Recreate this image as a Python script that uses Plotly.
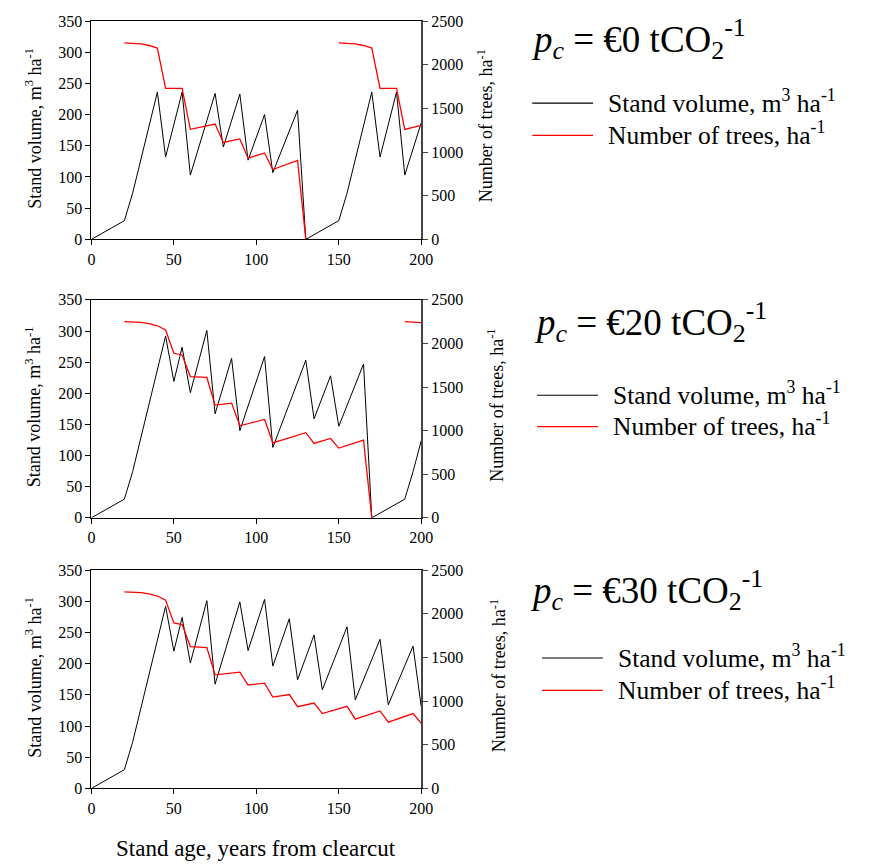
import plotly.graph_objects as go

# ---------------- data ----------------
# carbon prices (EUR per tCO2) of the three management scenarios
carbon_prices = ["0", "20", "30"]

# p_c = 0: stand volume (m3/ha) by stand age
age_vol_p0 = [0, 20, 25, 40, 45, 55, 60, 75, 80, 90, 95, 105, 110, 125, 130,
              150, 155, 170, 175, 185, 190, 200]
vol_p0 = [0, 30, 74, 236, 132, 236, 103, 234, 148, 233, 127, 200, 107, 207, 0,
          30, 74, 236, 132, 236, 103, 187]
# p_c = 0: number of trees per ha (None = no stand after clearcut)
age_trees_p0 = [20, 25, 30, 35, 40, 45, 55, 60, 75, 80, 90, 95, 105, 110, 125, 130,
                140, 150, 155, 160, 165, 170, 175, 185, 190, 200]
trees_p0 = [2250, 2247, 2238, 2220, 2190, 1730, 1730, 1260, 1320, 1110, 1150, 930,
            990, 800, 905, 0, None, 2250, 2247, 2238, 2220, 2190, 1730, 1730, 1260, 1305]

# p_c = 20
age_vol_p20 = [0, 20, 25, 45, 50, 55, 60, 70, 75, 85, 90, 105, 110, 130, 135, 145,
               150, 165, 170, 190, 195, 200]
vol_p20 = [0, 30, 74, 292, 219, 274, 201, 301, 167, 256, 140, 259, 113, 253, 159, 228,
           147, 247, 0, 30, 74, 124]
age_trees_p20 = [20, 25, 30, 35, 40, 45, 50, 55, 60, 70, 75, 85, 90, 105, 110, 130,
                 135, 145, 150, 165, 170, 180, 190, 195, 200]
trees_p20 = [2250, 2248, 2242, 2228, 2203, 2154, 1887, 1868, 1620, 1610, 1293, 1316,
             1056, 1128, 860, 977, 853, 910, 800, 891, 0, None, 2250, 2248, 2240]

# p_c = 30
age_vol_p30 = [0, 20, 25, 45, 50, 55, 60, 70, 75, 90, 95, 105, 110, 120, 125, 135,
               140, 155, 160, 175, 180, 195, 200]
vol_p30 = [0, 30, 74, 292, 220, 274, 201, 301, 167, 299, 221, 303, 196, 272, 174, 246,
           158, 259, 142, 239, 134, 228, 131]
age_trees_p30 = [20, 25, 30, 35, 40, 45, 50, 55, 60, 70, 75, 90, 95, 105, 110, 120,
                 125, 135, 140, 155, 160, 175, 180, 195, 200]
trees_p30 = [2250, 2248, 2242, 2228, 2203, 2156, 1895, 1876, 1624, 1613, 1301, 1331,
             1184, 1206, 1045, 1075, 936, 977, 857, 940, 793, 887, 759, 857, 744]

vol_tick_values = [0, 50, 100, 150, 200, 250, 300, 350]
trees_tick_values = [0, 500, 1000, 1500, 2000, 2500]
age_tick_values = [0, 50, 100, 150, 200]

panels = [
    (age_vol_p0, vol_p0, age_trees_p0, trees_p0),
    (age_vol_p20, vol_p20, age_trees_p20, trees_p20),
    (age_vol_p30, vol_p30, age_trees_p30, trees_p30),
]

# ---------------- layout geometry (pixels) ----------------
W, H = 879, 868
SERIF = "Liberation Serif, Times New Roman, serif"
plot_left, plot_right = 89, 425
panel_top_bottom = [(13.3, 236), (297.7, 520), (573.3, 796)]


def px_x(px):
    return px / W


def px_y(py):
    return 1 - py / H


fig = go.Figure()
layout = dict(
    width=W, height=H,
    margin=dict(l=0, r=0, t=0, b=0),
    paper_bgcolor="white", plot_bgcolor="white",
    showlegend=False,
    font=dict(family=SERIF, size=16, color="black"),
)

annotations = []
shapes = []

for i, (ax_v, v, ax_t, t) in enumerate(panels):
    n = i + 1
    xa = "x" if n == 1 else f"x{n}"
    ya_left = "y" if n == 1 else f"y{2 * n - 1}"
    ya_right = f"y{2 * n}"

    fig.add_trace(go.Scatter(x=ax_v, y=v, mode="lines", xaxis=xa, yaxis=ya_left,
                             line=dict(color="black", width=1), name="Stand volume"))
    fig.add_trace(go.Scatter(x=ax_t, y=t, mode="lines", xaxis=xa, yaxis=ya_right,
                             connectgaps=False,
                             line=dict(color="#ff0000", width=1.3), name="Number of trees"))

    top, bottom = panel_top_bottom[i]
    dom_y = [px_y(bottom), px_y(top)]
    xkey = "xaxis" if n == 1 else f"xaxis{n}"
    ylkey = "yaxis" if n == 1 else f"yaxis{2 * n - 1}"
    yrkey = f"yaxis{2 * n}"

    layout[xkey] = dict(
        domain=[px_x(plot_left), px_x(plot_right)], anchor=ya_left,
        range=[0, 200], tickvals=age_tick_values,
        ticks="outside", ticklen=5, tickcolor="black",
        showline=True, linecolor="black", linewidth=1, mirror=True,
        showgrid=False, zeroline=False,
        tickfont=dict(family=SERIF, size=16, color="black"),
    )
    layout[ylkey] = dict(
        domain=dom_y, anchor=xa,
        range=[0, 350], tickvals=vol_tick_values,
        ticks="outside", ticklen=5, tickcolor="black",
        showline=True, linecolor="black", linewidth=1,
        showgrid=False, zeroline=False,
        tickfont=dict(family=SERIF, size=16, color="black"),
    )
    layout[yrkey] = dict(
        domain=dom_y, anchor=xa, overlaying=ya_left, side="right",
        range=[0, 2500], tickvals=trees_tick_values,
        ticks="outside", ticklen=5, tickcolor="#444",
        showline=True, linecolor="#444", linewidth=1.5,
        showgrid=False, zeroline=False,
        tickfont=dict(family=SERIF, size=16, color="black"),
    )

    mid = (top + bottom) / 2
    # left / right axis titles
    annotations.append(dict(
        xref="paper", yref="paper", x=px_x(30), y=px_y(mid - 2),
        xanchor="center", yanchor="middle", textangle=-90, showarrow=False,
        text="Stand volume, m<sup>3</sup> ha<sup>-1</sup>",
        font=dict(family=SERIF, size=18, color="black"),
    ))
    right_title_x = [490, 501, 503][i]
    annotations.append(dict(
        xref="paper", yref="paper", x=px_x(right_title_x), y=px_y(mid - 4),
        xanchor="center", yanchor="middle", textangle=-90, showarrow=False,
        text="Number of trees, ha<sup>-1</sup>",
        font=dict(family=SERIF, size=18, color="black"),
    ))

# scenario headings with their legends
heading_pos = [(535, 32), (538, 320), (534, 594)]
legend_pos = [(538, 600, 97, 130), (543, 605, 395, 427), (548, 610, 663, 696)]
for i, price in enumerate(carbon_prices):
    hx, hy = heading_pos[i]
    annotations.append(dict(
        xref="paper", yref="paper", x=px_x(hx), y=px_y(hy),
        xanchor="left", yanchor="middle", showarrow=False,
        text=f"<i>p</i><sub><i>c</i></sub> = €{price} tCO<sub>2</sub><sup>-1</sup>",
        font=dict(family=SERIF, size=37, color="black"),
    ))
    x0, x1, yb, yr = legend_pos[i]
    for yy, col, label in [(yb, "black", "Stand volume, m<sup>3</sup> ha<sup>-1</sup>"),
                           (yr, "#ff0000", "Number of trees, ha<sup>-1</sup>")]:
        shapes.append(dict(type="line", xref="paper", yref="paper",
                           x0=px_x(x0), x1=px_x(x1), y0=px_y(yy), y1=px_y(yy),
                           line=dict(color=col, width=1.2)))
        annotations.append(dict(
            xref="paper", yref="paper", x=px_x(x1 + 13), y=px_y(yy - 2),
            xanchor="left", yanchor="middle", showarrow=False, text=label,
            font=dict(family=SERIF, size=25.5, color="black"),
        ))

# shared x-axis title
annotations.append(dict(
    xref="paper", yref="paper", x=px_x(257), y=px_y(857),
    xanchor="center", yanchor="middle", showarrow=False,
    text="Stand age, years from clearcut",
    font=dict(family=SERIF, size=23, color="black"),
))

layout["annotations"] = annotations
layout["shapes"] = shapes
fig.update_layout(**layout)
fig.write_html("out.html")
